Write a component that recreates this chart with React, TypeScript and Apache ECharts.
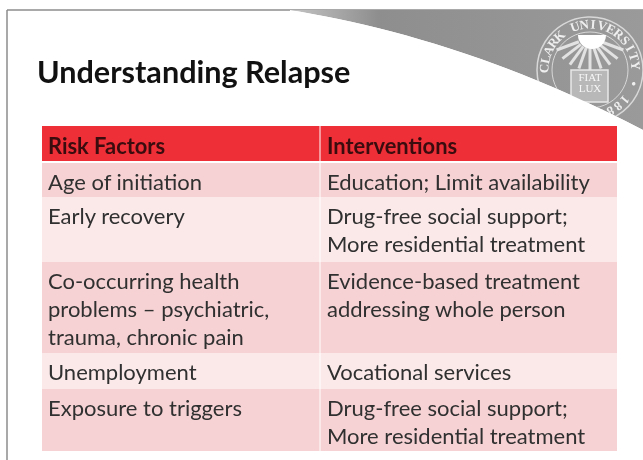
import React, { useEffect, useRef } from "react";
import * as echarts from "echarts";

const titleText = "Understanding Relapse";
const headers = ["Risk Factors", "Interventions"];
const riskFactors = [
  ["Age of initiation"],
  ["Early recovery"],
  ["Co-occurring health", "problems – psychiatric,", "trauma, chronic pain"],
  ["Unemployment"],
  ["Exposure to triggers"],
];
const interventions = [
  ["Education; Limit availability"],
  ["Drug-free social support;", "More residential treatment"],
  ["Evidence-based treatment", "addressing whole person"],
  ["Vocational services"],
  ["Drug-free social support;", "More residential treatment"],
];
const sealLetters = "CLARK UNIVERSITY • 1887";

const FONT = "Lato";
const WAVE = "C 380 25, 500 55, 643 130";
echarts.graphic.registerShape("waveFill", echarts.graphic.extendPath(`M290 10 ${WAVE} L643 10 Z`, {}));
echarts.graphic.registerShape("waveCover", echarts.graphic.extendPath(`M290 10 ${WAVE} L643 135 L290 135 Z`, {}));

function buildGraphics() {
  const els: any[] = [];
  // slide frame
  els.push({ type: "line", shape: { x1: 7, y1: 10, x2: 643, y2: 10 }, style: { stroke: "#8c8c8c", lineWidth: 1.5 } });
  els.push({ type: "line", shape: { x1: 7, y1: 10, x2: 7, y2: 460 }, style: { stroke: "#8c8c8c", lineWidth: 1.5 } });
  // grey swoosh
  els.push({
    type: "waveFill",
    style: {
      fill: new echarts.graphic.LinearGradient(0, 0, 1, 0, [
        { offset: 0, color: "#c4c4c4" },
        { offset: 0.25, color: "#8e8e8e" },
        { offset: 1, color: "#9a9a9a" },
      ]),
    },
  });
  // seal
  const cx = 590, cy = 70, R = 53;
  const seal = "#d8d8d8";
  els.push({ type: "circle", shape: { cx, cy, r: R }, style: { fill: "transparent", stroke: seal, lineWidth: 1.5 } });
  els.push({ type: "circle", shape: { cx, cy, r: R - 15 }, style: { fill: "transparent", stroke: seal, lineWidth: 1 } });
  const letters = sealLetters.split("");
  const startDeg = -88, stepDeg = 11.5;
  letters.forEach((ch, i) => {
    const deg = startDeg + i * stepDeg;
    const rad = (deg * Math.PI) / 180;
    const r = 46;
    els.push({
      type: "text",
      x: cx + r * Math.sin(rad),
      y: cy - r * Math.cos(rad),
      rotation: -rad,
      style: { text: ch, font: `600 13px "Liberation Serif"`, fill: "#efefef", textAlign: "center", textVerticalAlign: "middle" },
    });
  });
  // rays and sun
  [-68, -50, -34, -18, 0, 18, 34, 50, 68].forEach((a) => {
    const t = (a * Math.PI) / 180;
    els.push({
      type: "line",
      shape: { x1: cx + 12 * Math.sin(t), y1: 38 + 10 * Math.cos(t), x2: cx + 36 * Math.sin(t), y2: 38 + 32 * Math.cos(t) },
      style: { stroke: "#e2e2e2", lineWidth: 3 },
    });
  });
  els.push({
    type: "sector",
    shape: { cx: cx + 2, cy: 35, r0: 0, r: 14, startAngle: 0, endAngle: Math.PI },
    style: { fill: "#ffffff" },
  });
  // book
  els.push({ type: "rect", shape: { x: 571, y: 70, width: 37, height: 32 }, style: { fill: "#b8b8b8", stroke: "#e8e8e8", lineWidth: 1.5 } });
  els.push({ type: "text", x: 590, y: 77, style: { text: "FIAT", font: `11px "Liberation Serif"`, fill: "#f6f6f6", textAlign: "center", textVerticalAlign: "middle" } });
  els.push({ type: "text", x: 590, y: 87.5, style: { text: "LUX", font: `11px "Liberation Serif"`, fill: "#f6f6f6", textAlign: "center", textVerticalAlign: "middle" } });
  els.push({ type: "waveCover", style: { fill: "#ffffff" } });

  // title
  els.push({
    type: "text", x: 37, y: 71,
    style: { text: titleText, font: `700 30.6px ${FONT}`, fill: "#111111", textVerticalAlign: "middle" },
  });

  // table
  const left = 42, mid = 320, right = 617;
  const rowTops = [163, 197, 262, 353, 389];
  const rowBottoms = [197, 262, 353, 389, 451];
  const fills = ["#f6d2d4", "#fbe9ea", "#f6d2d4", "#fbe9ea", "#f6d2d4"];
  els.push({ type: "rect", shape: { x: left, y: 126, width: right - left, height: 35 }, style: { fill: "#ee2f38" } });
  rowTops.forEach((top, i) => {
    els.push({ type: "rect", shape: { x: left, y: top, width: right - left, height: rowBottoms[i] - top }, style: { fill: fills[i] } });
  });
  els.push({ type: "line", shape: { x1: mid, y1: 126, x2: mid, y2: 451 }, style: { stroke: "#ffffff", lineWidth: 1 } });
  const colX = [48, 327];
  headers.forEach((h, i) => {
    els.push({ type: "text", x: colX[i], y: 145, style: { text: h, font: `700 21.9px ${FONT}`, fill: "#3a0c0e", textVerticalAlign: "middle" } });
  });
  [riskFactors, interventions].forEach((col, c) => {
    col.forEach((lines, r) => {
      lines.forEach((line, l) => {
        els.push({
          type: "text", x: colX[c], y: rowTops[r] + 18.5 + l * 28,
          style: { text: line, font: `22px ${FONT}`, fill: "#303030", textVerticalAlign: "middle" },
        });
      });
    });
  });
  return els;
}

export default function App() {
  const ref = useRef<HTMLDivElement>(null);
  useEffect(() => {
    const chart = echarts.init(ref.current!, undefined, { renderer: "svg" });
    chart.setOption({ animation: false, backgroundColor: "#ffffff", graphic: { elements: buildGraphics() } });
    return () => chart.dispose();
  }, []);
  return <div ref={ref} style={{ position: "absolute", left: 0, top: 0, width: 643, height: 460, filter: "blur(0.4px)" }} />;
}
